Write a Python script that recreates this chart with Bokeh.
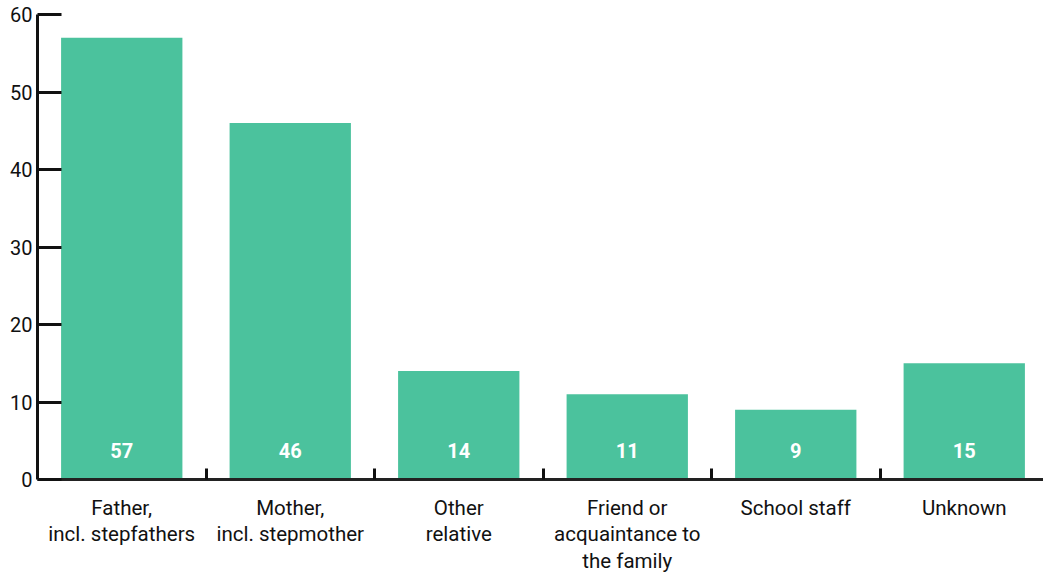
from bokeh.plotting import figure
from bokeh.models import FixedTicker, ColumnDataSource, Range1d
from bokeh.core.properties import value
from bokeh.embed import file_html
from bokeh.resources import INLINE

categories = [
    "Father,\nincl. stepfathers",
    "Mother,\nincl. stepmother",
    "Other\nrelative",
    "Friend or\nacquaintance to\nthe family",
    "School staff",
    "Unknown",
]
counts = [57, 46, 14, 11, 9, 15]
y_ticks = [0, 10, 20, 30, 40, 50, 60]

BAR = "#4BC29D"
FONT = "Roboto"

xs = list(range(len(categories)))
src = ColumnDataSource(dict(x=xs, top=counts, label=[str(c) for c in counts],
                            zero=[0] * len(counts)))

W, H = 1043, 576
left, top, bottom = 37, 14, 96
cat_px = 168.5
frame_w = W - left

p = figure(width=W, height=H, output_backend="svg", toolbar_location=None,
           x_range=Range1d(-0.5, -0.5 + frame_w / cat_px), y_range=Range1d(0, 60),
           min_border_left=left, min_border_right=0, min_border_top=top,
           min_border_bottom=bottom)
p.outline_line_color = None
p.grid.visible = False
p.background_fill_color = "white"
p.border_fill_color = "white"

p.vbar(x="x", top="top", bottom=0, width=0.72, source=src,
       fill_color=BAR, line_color=None)

p.text(x="x", y="zero", text="label", source=src, y_offset=-29,
       text_align="center", text_baseline="middle",
       text_font=value(FONT), text_font_style="bold", text_font_size="20px",
       text_color="white")

xa = p.xaxis[0]
xa.ticker = FixedTicker(ticks=xs, minor_ticks=[i + 0.5 for i in xs[:-1]])
xa.major_label_overrides = {i: c for i, c in zip(xs, categories)}
xa.major_tick_in = 0
xa.major_tick_out = 0
xa.minor_tick_in = 11
xa.minor_tick_out = 0
xa.minor_tick_line_width = 3
xa.minor_tick_line_color = "#111111"
xa.axis_line_width = 3
xa.axis_line_color = "#222222"
xa.major_label_standoff = 16
xa.major_label_text_font = FONT
xa.major_label_text_font_size = "20.5px"
xa.major_label_text_line_height = 1.12
xa.major_label_text_color = "#111111"

ya = p.yaxis[0]
ya.ticker = FixedTicker(ticks=y_ticks)
ya.major_tick_in = 24
ya.major_tick_out = 0
ya.major_tick_line_width = 3
ya.major_tick_line_color = "#111111"
ya.minor_tick_line_color = None
ya.axis_line_width = 3
ya.axis_line_color = "#111111"
ya.major_label_standoff = 5
ya.major_label_text_font = FONT
ya.major_label_text_font_size = "20px"
ya.major_label_text_color = "#111111"
ya.major_label_text_baseline = "top"

open("out.html", "w").write(file_html(p, INLINE))
